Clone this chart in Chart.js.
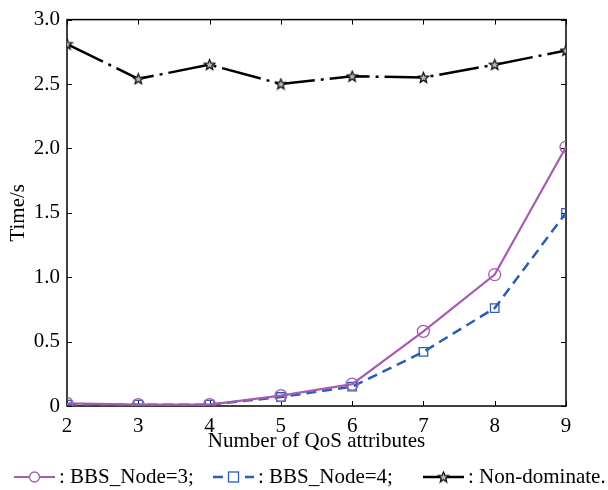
<!DOCTYPE html>
<html>
<head>
<meta charset="utf-8">
<script src="https://cdn.jsdelivr.net/npm/chart.js@4.4.0/dist/chart.umd.min.js"></script>
<style>
  html, body { margin: 0; padding: 0; background: #fff; }
  #wrap { width: 608px; height: 490px; }
</style>
</head>
<body>
<div id="wrap"><canvas id="timeChart" width="608" height="490"></canvas></div>
<script>
// data
const attrCounts = [2, 3, 4, 5, 6, 7, 8, 9];
const bbsNode3 = [0.02, 0.01, 0.01, 0.08, 0.17, 0.58, 1.02, 2.01];
const bbsNode4 = [0.01, 0.01, 0.01, 0.07, 0.15, 0.42, 0.76, 1.50];
const nonDominate = [2.81, 2.54, 2.65, 2.50, 2.56, 2.55, 2.65, 2.76];
const seriesLabels = [': BBS_Node=3;', ': BBS_Node=4;', ': Non-dominate.'];
const yTicks = [0, 0.5, 1.0, 1.5, 2.0, 2.5, 3.0];

const serif = "'Liberation Serif', 'Times New Roman', serif";
const purple = '#a65cb0';
const blue = '#2a5db5';

function toPoints(values) {
    return attrCounts.map((x, i) => ({ x: x, y: values[i] }));
}

// five pointed star marker
function makeStar() {
    const c = document.createElement('canvas');
    c.width = 13; c.height = 13;
    const g = c.getContext('2d');
    g.beginPath();
    for (let i = 0; i < 10; i++) {
        const r = i % 2 === 0 ? 5.5 : 2.4;
        const a = -Math.PI / 2 + i * Math.PI / 5;
        const px = 6.5 + r * Math.cos(a), py = 6.9 + r * Math.sin(a);
        if (i === 0) g.moveTo(px, py); else g.lineTo(px, py);
    }
    g.closePath();
    g.fillStyle = '#bbb';
    g.fill();
    g.lineWidth = 1.2;
    g.strokeStyle = '#000';
    g.stroke();
    return c;
}
const starImg = makeStar();

// box frame with ticks pointing inward on all four sides
const framePlugin = {
    id: 'frame',
    beforeDatasetsDraw(chart) {
        const { ctx, chartArea: a, scales } = chart;
        ctx.save();
        ctx.strokeStyle = '#000';
        ctx.lineWidth = 1;
        const len = 5;
        ctx.beginPath();
        attrCounts.forEach(v => {
            const px = Math.round(scales.x.getPixelForValue(v)) + 0.5;
            ctx.moveTo(px, a.bottom); ctx.lineTo(px, a.bottom - len);
            ctx.moveTo(px, a.top); ctx.lineTo(px, a.top + len);
        });
        yTicks.forEach(v => {
            const py = Math.round(scales.y.getPixelForValue(v)) + 0.5;
            ctx.moveTo(a.left, py); ctx.lineTo(a.left + len, py);
            ctx.moveTo(a.right, py); ctx.lineTo(a.right - len, py);
        });
        ctx.stroke();
        ctx.lineWidth = 1.5;
        ctx.strokeRect(a.left, a.top, a.right - a.left, a.bottom - a.top);
        ctx.restore();
    }
};

// legend row under the axis title
const legendPlugin = {
    id: 'bottomLegend',
    afterDraw(chart) {
        const ctx = chart.ctx;
        const y = 477;
        const starts = [14, 213, 423];
        ctx.save();
        ctx.font = '21px ' + serif;
        ctx.textBaseline = 'middle';
        const lineLen = 41, gapText = 4;
        chart.data.datasets.forEach((ds, i) => {
            const x = starts[i];
            ctx.strokeStyle = ds.borderColor;
            ctx.lineWidth = ds.borderWidth;
            ctx.setLineDash(i === 1 ? [10, 6] : []);
            ctx.beginPath();
            ctx.moveTo(x, y); ctx.lineTo(x + lineLen, y);
            ctx.stroke();
            ctx.setLineDash([]);
            const cx = x + lineLen / 2;
            ctx.lineWidth = 1.3;
            if (i === 0) {
                ctx.fillStyle = '#fff';
                ctx.beginPath(); ctx.arc(cx, y, 5, 0, Math.PI * 2); ctx.fill(); ctx.stroke();
            } else if (i === 1) {
                ctx.fillStyle = '#fff';
                ctx.fillRect(cx - 5, y - 5, 10, 10);
                ctx.strokeRect(cx - 5, y - 5, 10, 10);
            } else {
                ctx.drawImage(starImg, cx - 6.5, y - 6.5);
            }
            ctx.fillStyle = '#000';
            ctx.fillText(seriesLabels[i], x + lineLen + gapText, y);
        });
        ctx.restore();
    }
};

new Chart(document.getElementById('timeChart'), {
    type: 'line',
    data: {
        datasets: [
            {
                label: seriesLabels[0],
                data: toPoints(bbsNode3),
                borderColor: purple,
                borderWidth: 2.2,
                pointStyle: 'circle',
                pointRadius: 6,
                pointBorderWidth: 1.3,
                pointBackgroundColor: 'rgba(255,255,255,0)',
                pointBorderColor: purple,
                tension: 0
            },
            {
                label: seriesLabels[1],
                data: toPoints(bbsNode4),
                borderColor: blue,
                borderWidth: 2.5,
                borderDash: [10, 6],
                pointStyle: 'rect',
                pointRadius: 6,
                pointBorderWidth: 1.3,
                pointBackgroundColor: 'rgba(255,255,255,0)',
                pointBorderColor: blue,
                tension: 0
            },
            {
                label: seriesLabels[2],
                data: toPoints(nonDominate),
                borderColor: '#000',
                borderWidth: 2.5,
                borderDash: [40, 6, 3, 6],
                pointStyle: starImg,
                tension: 0
            }
        ]
    },
    options: {
        responsive: false,
        animation: false,
        devicePixelRatio: 1,
        layout: { padding: { top: 16, right: 42, bottom: 34, left: 0 } },
        plugins: {
            legend: { display: false },
            tooltip: { enabled: false }
        },
        scales: {
            x: {
                type: 'linear',
                min: 2,
                max: 9,
                grid: { display: false, drawTicks: false },
                border: { display: false },
                ticks: {
                    stepSize: 1,
                    padding: 8,
                    color: '#000',
                    font: { family: serif, size: 21 }
                },
                title: {
                    display: true,
                    text: 'Number of QoS attributes',
                    color: '#000',
                    font: { family: serif, size: 21 },
                    padding: { top: 0, bottom: 2 }
                },
                afterFit(scale) { scale.height = 50; }
            },
            y: {
                min: 0,
                max: 3,
                grid: { display: false, drawTicks: false },
                border: { display: false },
                ticks: {
                    stepSize: 0.5,
                    padding: 7,
                    color: '#000',
                    font: { family: serif, size: 21 },
                    callback: v => v === 0 ? '0' : v.toFixed(1)
                },
                title: {
                    display: true,
                    text: 'Time/s',
                    color: '#000',
                    font: { family: serif, size: 21 },
                    padding: { top: 6, bottom: 0 }
                },
                afterFit(scale) { scale.width = 67; }
            }
        }
    },
    plugins: [framePlugin, legendPlugin]
});
</script>
</body>
</html>
